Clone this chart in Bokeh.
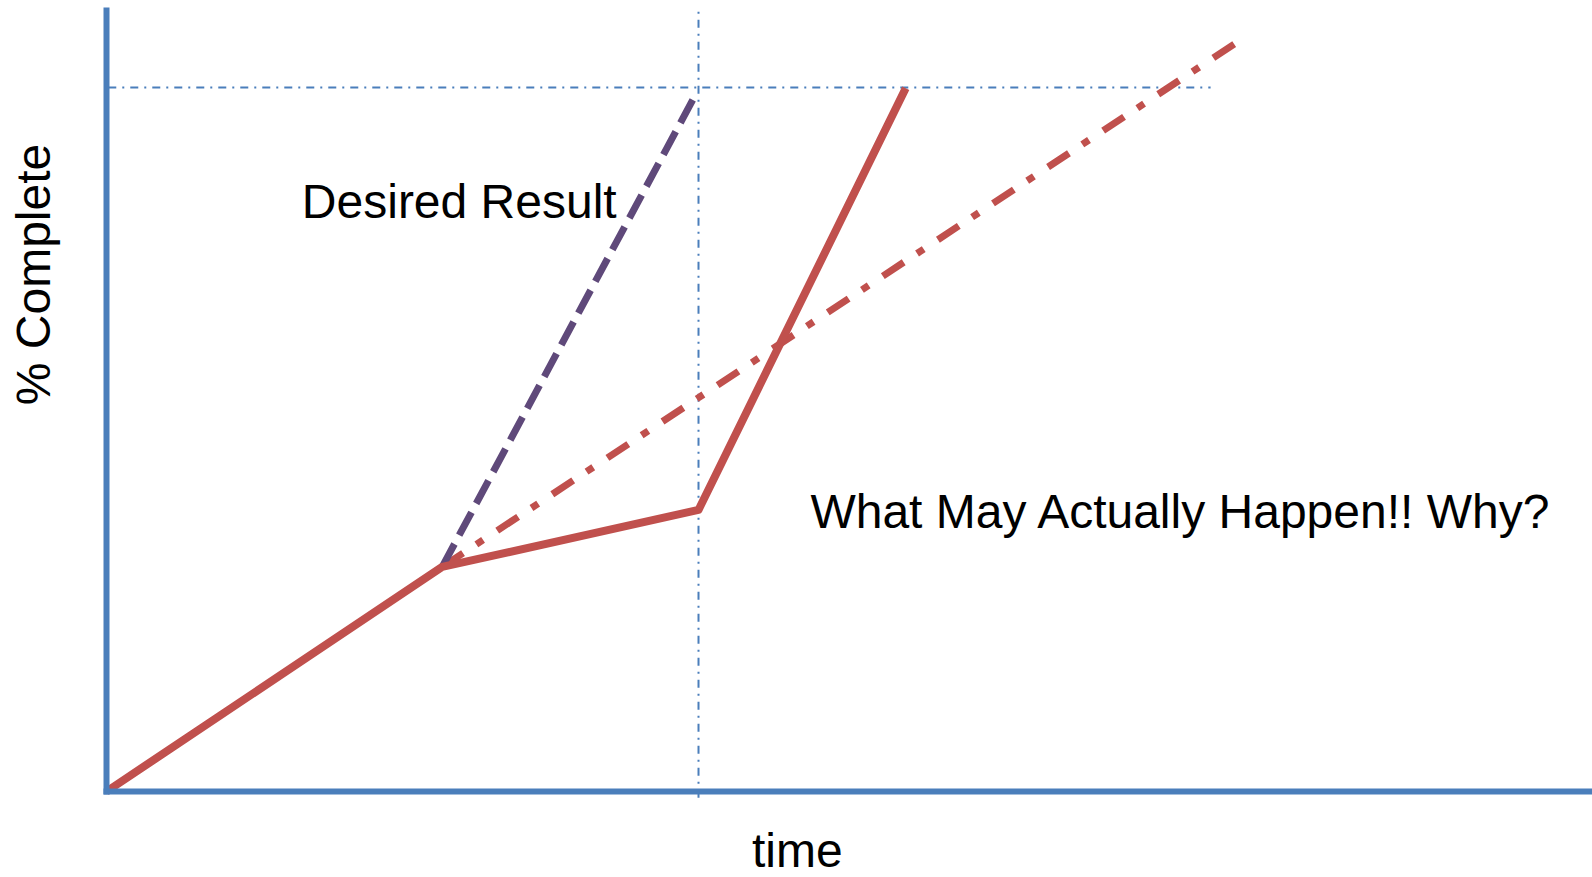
from bokeh.plotting import figure
from bokeh.models import Label, FixedTicker
from bokeh.embed import file_html
from bokeh.resources import INLINE

# ---- data (time units, % complete) ----
actual_time = [0.0, 5.67, 10.0, 13.5]
actual_pct = [0.0, 31.9, 40.0, 99.9]

desired_time = [5.67, 9.97]
desired_pct = [31.9, 99.3]

trend_time = [5.67, 19.2]
trend_pct = [31.9, 107.0]

target_pct = 100.0
target_time = 10.0
guide_h_time = [0.03, 18.65]
guide_v_pct = [-0.9, 110.9]

label_desired = "Desired Result"
label_actual = "What May Actually Happen!! Why?"
x_title = "time"
y_title = "% Complete"

FONT = "Liberation Sans"
AXIS_BLUE = "#4A7EBB"
RED = "#C0504D"
PURPLE = "#5F497A"

# frame covers whole canvas; axes are pinned at data zero
p = figure(width=1592, height=877, x_range=(-1.7905, 25.101),
           y_range=(-12.216, 112.36),
           output_backend="svg", toolbar_location=None,
           min_border_left=0, min_border_bottom=0, min_border_top=0,
           min_border_right=0)
p.outline_line_color = None
p.grid.grid_line_color = None
p.background_fill_color = "white"
p.border_fill_color = "white"

for ax in (p.xaxis[0], p.yaxis[0]):
    ax.ticker = FixedTicker(ticks=[])
    ax.fixed_location = 0
    ax.axis_line_color = AXIS_BLUE
    ax.axis_line_width = 6
    ax.major_tick_line_color = None
    ax.minor_tick_line_color = None
    ax.major_tick_out = 0
    ax.major_tick_in = 0
    ax.minor_tick_out = 0
    ax.major_label_text_font_size = "0px"
p.xaxis.bounds = (-0.05, 25.101)
p.yaxis.bounds = (-0.43, 111.36)

# guide lines
p.line(guide_h_time, [target_pct, target_pct], line_color=AXIS_BLUE,
       line_width=2, line_dash="8 6 2 6")
p.line([target_time, target_time], guide_v_pct, line_color=AXIS_BLUE,
       line_width=2, line_dash="8 6 2 6")

# trend (dash-dot red)
p.line(trend_time, trend_pct, line_color=RED, line_width=7,
       line_dash="25 16 8 17")
# desired (dashed purple)
p.line(desired_time, desired_pct, line_color=PURPLE, line_width=7,
       line_dash="26 10")
# actual (solid red)
p.line(actual_time, actual_pct, line_color=RED, line_width=8,
       line_join="round")

common = dict(text_font=FONT, text_font_size="48px", text_color="black",
              text_baseline="alphabetic")
p.add_layout(Label(x=3.30, y=83.77, text=label_desired, **common))
p.add_layout(Label(x=11.89, y=39.77, text=label_actual, **common))
# axis titles
p.add_layout(Label(x=11.67, y=-8.39, text=x_title, text_align="center",
                   **common))
p.add_layout(Label(x=-1.23, y=73.44, text=y_title, text_align="center",
                   angle=1.5707963, **common))

open("out.html", "w").write(file_html(p, INLINE))
